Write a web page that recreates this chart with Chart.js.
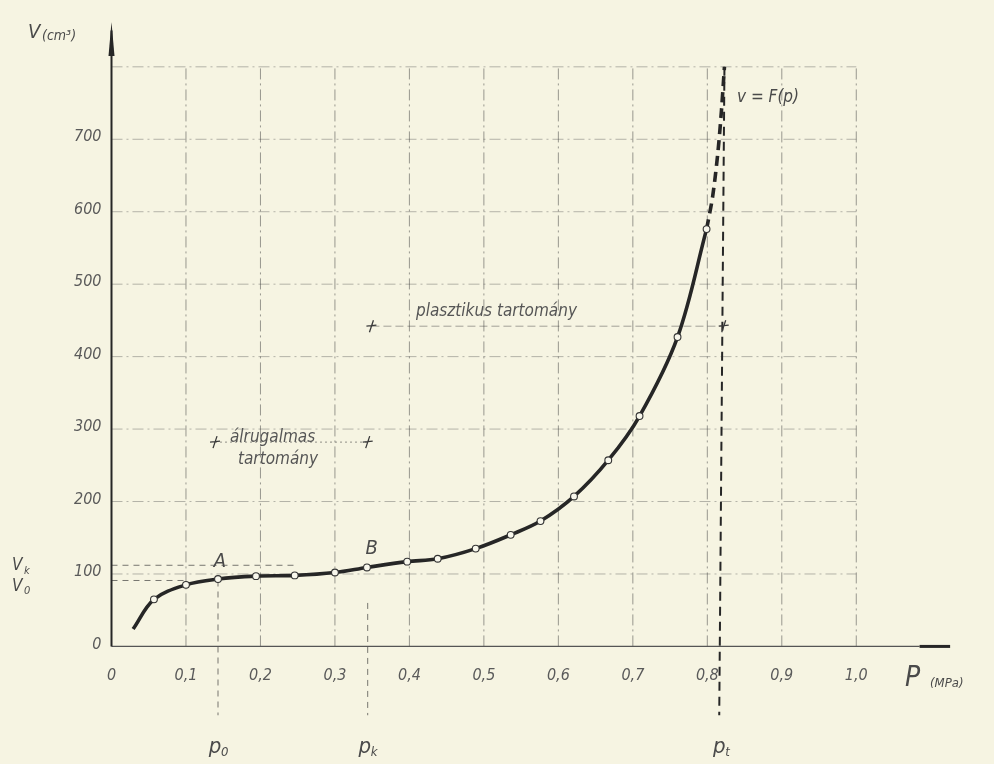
<!DOCTYPE html>
<html>
<head>
<meta charset="utf-8">
<title>V = F(p)</title>
<script src="https://cdn.jsdelivr.net/npm/chart.js@4.4.1/dist/chart.umd.min.js"></script>
<style>
  html, body {
    margin: 0;
    padding: 0;
    background: #f6f4e2;
  }
  #wrap {
    width: 994px;
    height: 764px;
    position: relative;
  }
</style>
</head>
<body>
<div id="wrap"><canvas id="chart" width="994" height="764"></canvas></div>
<script>
/* ---------- Data ---------- */
const pressure = [0.029, 0.057, 0.100, 0.143, 0.194, 0.246, 0.300, 0.343, 0.397, 0.438, 0.489, 0.536, 0.576, 0.621, 0.667, 0.709, 0.760, 0.799];
const volume = [24, 65, 85, 93, 97, 98, 102, 109, 117, 121, 135, 154, 173, 207, 257, 318, 427, 576];

// dashed part of the curve towards the asymptote
const tailPressure = [0.799, 0.807, 0.814, 0.819, 0.823];
const tailVolume = [576, 620, 680, 740, 800];

const xTicks = [0, 0.1, 0.2, 0.3, 0.4, 0.5, 0.6, 0.7, 0.8, 0.9, 1.0];
const xTickLabels = ["0", "0,1", "0,2", "0,3", "0,4", "0,5", "0,6", "0,7", "0,8", "0,9", "1,0"];
const yTicks = [0, 100, 200, 300, 400, 500, 600, 700];
const yGridTop = 800;

// characteristic points
const p0 = 0.143, pk = 0.344, pt = 0.820;
const v0 = 91, vk = 112;

// region markers
const elasticRange = [0.139, 0.344];
const elasticLevel = 282;
const plasticRange = [0.349, 0.822];
const plasticLevel = 442;

/* ---------- Styles ---------- */
const inkColor = "#262626";
const textColor = "#4a4a4a";
const fontFamily = "'Liberation Sans Narrow', 'DejaVu Sans Condensed', 'Liberation Sans', sans-serif";

function toPoints(xs, ys) {
  return xs.map((x, i) => ({ x: x, y: ys[i] }));
}

/* ---------- Drawing plugin for grid, axes and lettering ---------- */
const paperPlugin = {
  id: "paper",
  beforeDatasetsDraw(chart) {
    const ctx = chart.ctx;
    const xs = chart.scales.x;
    const ys = chart.scales.y;
    const X = (v) => xs.getPixelForValue(v);
    const Y = (v) => ys.getPixelForValue(v);

    ctx.save();

    // grid, dash-dot
    ctx.lineWidth = 1;
    ctx.setLineDash([11, 4, 2, 4]);
    ctx.strokeStyle = "rgba(80, 80, 80, 0.4)";
    yTicks.slice(1).concat([yGridTop]).forEach((v) => {
      ctx.beginPath();
      ctx.moveTo(X(0), Y(v));
      ctx.lineTo(X(1.0), Y(v));
      ctx.stroke();
    });
    ctx.strokeStyle = "rgba(60, 60, 60, 0.5)";
    xTicks.slice(1).forEach((v) => {
      ctx.beginPath();
      ctx.moveTo(X(v), Y(0));
      ctx.lineTo(X(v), Y(yGridTop));
      ctx.stroke();
    });

    // guide lines for p0, pk, pt and V0, Vk
    ctx.strokeStyle = "rgba(50, 50, 50, 0.65)";
    ctx.setLineDash([6, 5]);
    ctx.lineWidth = 1;
    [[p0, v0], [pk, 60]].forEach(([p, top]) => {
      ctx.beginPath();
      ctx.moveTo(X(p), Y(top));
      ctx.lineTo(X(p), Y(-95));
      ctx.stroke();
    });
    ctx.beginPath();
    ctx.moveTo(X(0), Y(v0));
    ctx.lineTo(X(0.1), Y(v0));
    ctx.stroke();
    ctx.beginPath();
    ctx.moveTo(X(0), Y(vk));
    ctx.lineTo(X(0.25), Y(vk));
    ctx.stroke();

    ctx.strokeStyle = inkColor;
    ctx.lineWidth = 2;
    ctx.setLineDash([9, 6]);
    ctx.beginPath();
    ctx.moveTo(X(pt + 0.003), Y(yGridTop));
    ctx.lineTo(X(pt - 0.004), Y(-95));
    ctx.stroke();

    // region range lines
    ctx.strokeStyle = "rgba(60, 60, 60, 0.55)";
    ctx.lineWidth = 1;
    ctx.setLineDash([2, 3]);
    ctx.beginPath();
    ctx.moveTo(X(elasticRange[0]), Y(elasticLevel));
    ctx.lineTo(X(elasticRange[1]), Y(elasticLevel));
    ctx.stroke();
    ctx.setLineDash([8, 4]);
    ctx.strokeStyle = "rgba(60, 60, 60, 0.45)";
    ctx.beginPath();
    ctx.moveTo(X(plasticRange[0]), Y(plasticLevel));
    ctx.lineTo(X(plasticRange[1]), Y(plasticLevel));
    ctx.stroke();

    ctx.setLineDash([]);
    ctx.strokeStyle = "#3a3a3a";
    ctx.lineWidth = 1.3;
    [[elasticRange, elasticLevel], [plasticRange, plasticLevel]].forEach(([r, lvl]) => {
      r.forEach((p) => {
        const cx = X(p), cy = Y(lvl);
        ctx.beginPath();
        ctx.moveTo(cx + 2, cy - 6);
        ctx.lineTo(cx - 2, cy + 6);
        ctx.moveTo(cx - 5, cy);
        ctx.lineTo(cx + 5, cy - 1);
        ctx.stroke();
      });
    });

    // axes
    ctx.strokeStyle = "#555";
    ctx.lineWidth = 1.2;
    ctx.beginPath();
    ctx.moveTo(X(0), Y(0));
    ctx.lineTo(X(1.085), Y(0));
    ctx.stroke();
    ctx.strokeStyle = inkColor;
    ctx.lineWidth = 3;
    ctx.beginPath();
    ctx.moveTo(X(1.085), Y(0));
    ctx.lineTo(X(1.126), Y(0));
    ctx.stroke();

    ctx.lineWidth = 2;
    ctx.beginPath();
    ctx.moveTo(X(0), Y(0));
    ctx.lineTo(X(0), Y(850));
    ctx.stroke();
    ctx.fillStyle = inkColor;
    ctx.beginPath();
    ctx.moveTo(X(0), Y(862));
    ctx.lineTo(X(0) - 3, Y(815));
    ctx.lineTo(X(0) + 3, Y(815));
    ctx.closePath();
    ctx.fill();

    // tick labels
    ctx.fillStyle = "#5a5a5a";
    ctx.font = "italic 16px " + fontFamily;
    ctx.textAlign = "right";
    ctx.textBaseline = "middle";
    yTicks.forEach((v) => {
      ctx.fillText(String(v), X(0) - 10, Y(v) - 2);
    });
    ctx.textAlign = "center";
    xTicks.forEach((v, i) => {
      ctx.fillText(xTickLabels[i], X(v), Y(0) + 29);
    });

    // lettering
    ctx.fillStyle = textColor;
    ctx.textAlign = "left";
    ctx.font = "italic 20px " + fontFamily;
    ctx.fillText("V", 28, 33);
    ctx.font = "italic 14px " + fontFamily;
    ctx.fillText("(cm³)", 42, 36);

    ctx.font = "italic 28px " + fontFamily;
    ctx.fillText("P", 905, 679);
    ctx.font = "italic 13px " + fontFamily;
    ctx.fillText("(MPa)", 930, 684);

    ctx.font = "italic 17px " + fontFamily;
    ctx.fillText("V", 12, 566);
    ctx.fillText("V", 12, 587);
    ctx.font = "italic 11px " + fontFamily;
    ctx.fillText("k", 24, 571);
    ctx.fillText("0", 24, 591);

    ctx.font = "italic 20px " + fontFamily;
    ctx.textAlign = "center";
    ctx.fillText("A", X(p0) + 2, Y(v0) - 19);
    ctx.fillText("B", X(pk) + 4, Y(109) - 19);

    [[p0, "0"], [pk, "k"], [pt, "t"]].forEach(([p, sub]) => {
      ctx.textAlign = "center";
      ctx.font = "italic 22px " + fontFamily;
      ctx.fillText("p", X(p) - 3, 747);
      ctx.textAlign = "left";
      ctx.font = "italic 13px " + fontFamily;
      ctx.fillText(sub, X(p) + 3, 753);
    });

    ctx.textAlign = "left";
    ctx.font = "italic 17px " + fontFamily;
    ctx.fillText("v = F(p)", 737, 98);
    ctx.fillStyle = "#555";
    ctx.fillText("plasztikus tartomány", 416, 312);
    ctx.fillText("álrugalmas", 230, 438);
    ctx.fillText("tartomány", 238, 460);

    ctx.restore();
  }
};

/* ---------- Chart ---------- */
const chart = new Chart(document.getElementById("chart"), {
  type: "scatter",
  data: {
    datasets: [
      {
        label: "V = F(p)",
        data: toPoints(pressure, volume),
        showLine: true,
        borderColor: inkColor,
        borderWidth: 3.6,
        tension: 0.35,
        pointRadius: pressure.map((p, i) => (i === 0 ? 0 : 3.4)),
        pointBackgroundColor: "#f8f7ec",
        pointBorderColor: "#333",
        pointBorderWidth: 1.1
      },
      {
        label: "tail",
        data: toPoints(tailPressure, tailVolume),
        showLine: true,
        borderColor: inkColor,
        borderWidth: 3.6,
        borderDash: [10, 6],
        tension: 0.3,
        pointRadius: 0
      }
    ]
  },
  options: {
    responsive: false,
    animation: false,
    layout: { padding: 0 },
    plugins: {
      legend: { display: false },
      tooltip: { enabled: false }
    },
    scales: {
      x: { type: "linear", display: false, min: -0.14286, max: 1.17807 },
      y: { type: "linear", display: false, min: -155.25, max: 885.2 }
    }
  },
  plugins: [paperPlugin]
});
</script>
</body>
</html>
